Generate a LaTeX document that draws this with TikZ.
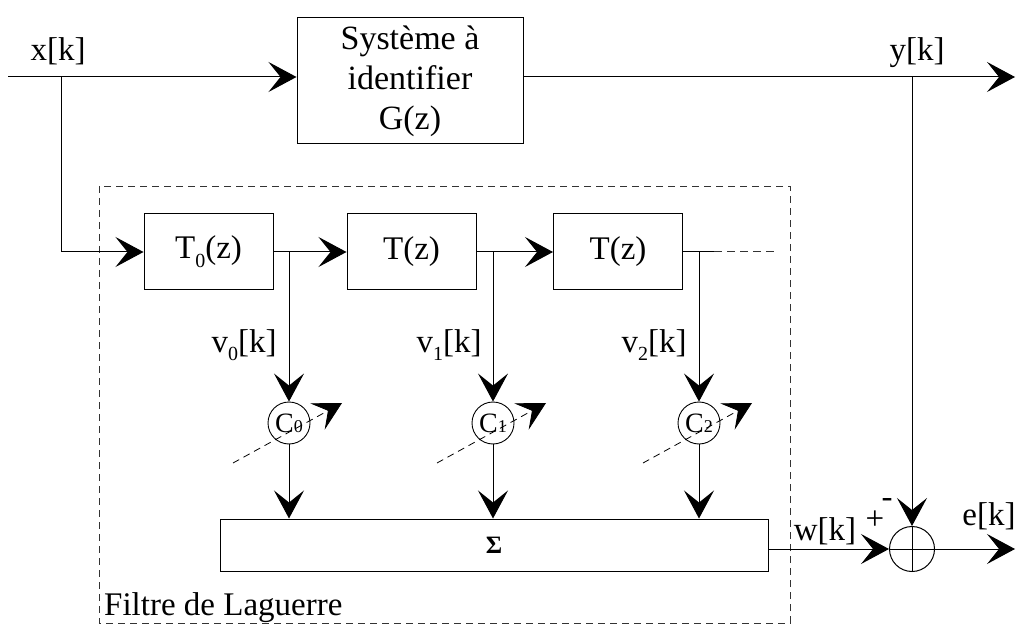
\documentclass[tikz,border=0pt]{standalone}
\usepackage{fontspec}
\setmainfont{Liberation Serif}
\usetikzlibrary{arrows.meta}
\newcommand\lowsub[1]{\raisebox{-9pt}{\fontsize{20}{20}\selectfont #1}}
\newcommand\bigtxt{\fontsize{33}{40}\selectfont}
\newcommand\coeftxt[1]{{\fontsize{28}{28}\selectfont C}{\fontsize{18}{18}\selectfont #1}}
\begin{document}
\begin{tikzpicture}[x=1pt,y=-1pt,
  every node/.style={font=\bigtxt, inner sep=0pt},
  line/.style={line width=1pt, draw=black},
  arr/.style={line, -{Stealth[length=28pt,width=30pt,inset=12pt]}},
  blk/.style={draw=black, line width=1pt, rectangle, inner sep=0pt},
  tbox/.style={blk, minimum width=129pt, minimum height=76pt},
  coef/.style={draw=black, line width=0.9pt, circle, minimum size=42pt},
  gain/.style={line width=0.8pt, draw=black, dash pattern=on 7pt off 5pt,
               -{Stealth[length=28pt,width=30pt,inset=12pt]}},
  frame/.style={line width=0.9pt, draw=black!80, dash pattern=on 7pt off 5pt},
  lbl/.style={anchor=base}
]
\useasboundingbox (0,0) rectangle (1017,628);

% dashed frame
\draw[frame] (99,186) rectangle (790,623);
\node[anchor=base west] (flt) at (104,615) {Filtre de Laguerre};

% system block
\node[blk, minimum width=226pt, minimum height=126pt, align=center,
      font=\fontsize{34}{40}\selectfont] (sys) at (410,81)
      {Système à\\identifier\\G(z)};

% coordinates
\coordinate (xin) at (8,77);
\coordinate (xb) at (61,77);
\coordinate (xc) at (61,252);
\coordinate (yb) at (912,77);
\coordinate (yout) at (1015,77);

% Laguerre blocks
\node[tbox] (t0) at (208.5,252) {T\lowsub{0}(z)};
\node[tbox] (t1) at (411.5,252) {T(z)};
\node[tbox] (t2) at (618,252) {T(z)};

\coordinate (b0) at (289,252);
\coordinate (b1) at (493,252);
\coordinate (b2) at (699,252);
\coordinate (t2s) at (714,252);
\coordinate (t2d) at (776,252);

% coefficients
\node[coef] (c0) at (289,423) {};
\node[coef] (c1) at (493,423) {};
\node[coef] (c2) at (699,423) {};
\node (c0t) at (c0) {\coeftxt{0}};
\node (c1t) at (c1) {\coeftxt{1}};
\node (c2t) at (c2) {\coeftxt{2}};

\coordinate (g0s) at (233,463); \coordinate (g0e) at (342,403);
\coordinate (g1s) at (437,463); \coordinate (g1e) at (546,403);
\coordinate (g2s) at (643,463); \coordinate (g2e) at (752,403);

% sum block
\node[blk, minimum width=548pt, minimum height=52pt] (sum) at (494,545)
      {\fontsize{25}{25}\selectfont\textbf{Σ}};

% summing junction
\node[coef, line width=1pt, minimum size=45pt] (sj) at (912,549) {};
\coordinate (eout) at (1015,549);

% connectors
\draw[line] (xin) -- (xb);
\draw[arr] (xb) -- (xb -| sys.west);
\draw[line] (xb) -- (xc);
\draw[arr] (xc) -- (t0.west);
\draw[arr] (sys.east |- yb) -- (yout);
\draw[arr] (yb) -- (sj.north);

\draw[arr] (t0.east) -- (t1.west);
\draw[arr] (t1.east) -- (t2.west);
\draw[line] (t2.east) -- (t2s);
\draw[line, draw=black!80, dash pattern=on 8pt off 5pt] (t2s) -- (t2d);

\draw[arr] (b0) -- (c0.north);
\draw[arr] (b1) -- (c1.north);
\draw[arr] (b2) -- (c2.north);

\draw[gain] (g0s) -- (g0e);
\draw[gain] (g1s) -- (g1e);
\draw[gain] (g2s) -- (g2e);

\draw[arr] (c0.south) -- (c0.south |- sum.north);
\draw[arr] (c1.south) -- (c1.south |- sum.north);
\draw[arr] (c2.south) -- (c2.south |- sum.north);

\draw[arr] (sum.east |- sj.west) -- (sj.west);
\draw[line] (sj.north) -- (sj.south);
\draw[line] (sj.west) -- (sj.east);
\draw[arr] (sj.east) -- (eout);

% labels
\node[lbl] (xl) at (58,61) {x[k]};
\node[lbl] (yl) at (917,61) {y[k]};
\node[lbl] (v0l) at (244,352) {v\lowsub{0}[k]};
\node[lbl] (v1l) at (449,352) {v\lowsub{1}[k]};
\node[lbl] (v2l) at (654,352) {v\lowsub{2}[k]};
\node[lbl] (wl) at (825,540) {w[k]};
\node[lbl] (el) at (989,525) {e[k]};
\node (plus) at (875,520) {+};
\node (minus) at (887,503) {-};
\end{tikzpicture}
\end{document}
